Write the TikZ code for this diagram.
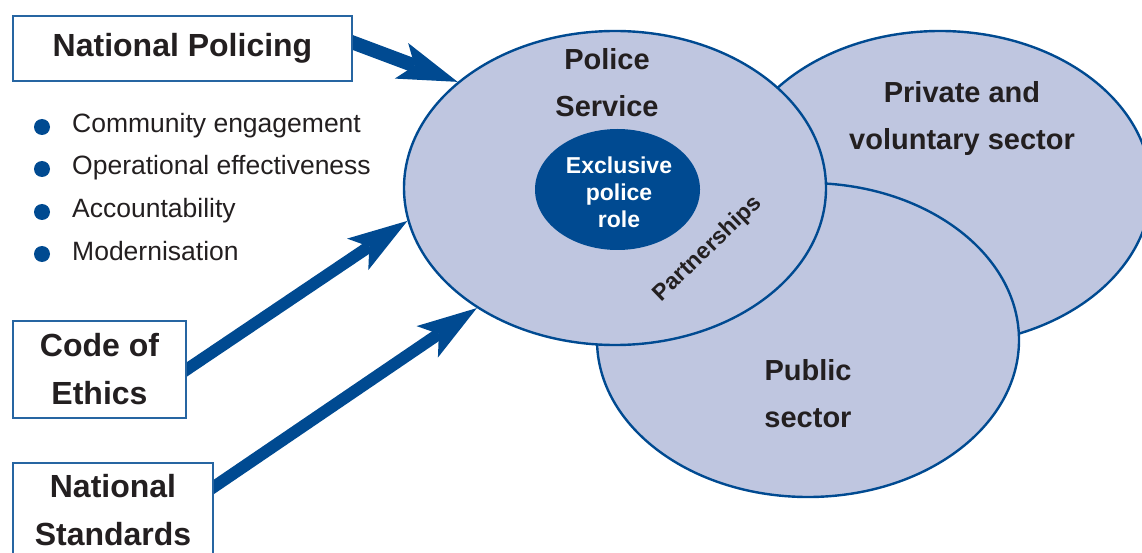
\documentclass[tikz,border=0pt]{standalone}
\usepackage{fontspec}
\setmainfont{Liberation Sans}
\usetikzlibrary{shapes.geometric, arrows.meta, backgrounds}

\definecolor{forceblue}{RGB}{0,74,145}
\definecolor{sectorfill}{RGB}{191,198,224}
\definecolor{ink}{RGB}{35,31,32}

\tikzstyle{sector}=[draw=forceblue, line width=2.4pt, fill=sectorfill, ellipse, minimum width=422pt, minimum height=314pt, inner sep=0pt]
\tikzstyle{panel}=[draw=forceblue!85, line width=1.4pt, fill=white, align=center, text=ink, font=\fontsize{32}{48}\selectfont\bfseries]
\tikzstyle{tag}=[align=center, text=ink, inner sep=0pt, font=\fontsize{29}{47}\selectfont\bfseries]
\tikzstyle{dot}=[circle, fill=forceblue, inner sep=0pt, minimum size=16pt]
\tikzstyle{entry}=[anchor=base west, inner sep=0pt, text=ink, font=\fontsize{26.5}{30}\selectfont]
\tikzstyle{drive}=[-{Stealth[length=60pt, width=38pt, inset=14pt, line width=0pt]}, line width=12pt, forceblue, shorten <=-6pt]

\begin{document}
\begin{tikzpicture}[x=1pt, y=-1pt]
    \useasboundingbox (0,0) rectangle (1142,553);
    \clip (0,0) rectangle (1142,553);

    % sectors, police service on top
    \node[sector] (private) at (940, 188) {};
    \node[sector] (public) at (808, 340) {};
    \node[sector] (police) at (615, 188) {};
    \node[ellipse, fill=forceblue, minimum width=165pt, minimum height=121pt, inner sep=0pt] (core) at (617.5, 189.5) {};

    \node[tag] (policetxt) at (607, 83) {Police\\Service};
    \node[tag] (privatetxt) at (962, 119) {Private and\\voluntary sector};
    \node[tag] (publictxt) at (808, 394) {Public\\sector};
    \node[tag, text=white, font=\fontsize{23}{27}\selectfont\bfseries] (coretxt) at (619, 192) {Exclusive\\police\\role};
    \node[tag, rotate=44, font=\fontsize{23}{26}\selectfont\bfseries] (partners) at (708, 249) {Partnerships};

    % inputs
    \node[panel, minimum width=339pt, minimum height=65pt] (policing) at (182.5, 48.5) {National Policing};
    \node[panel, minimum width=173pt, minimum height=97pt] (ethics) at (99.5, 369.5) {Code of\\Ethics};
    \node[panel, minimum width=200pt, minimum height=94pt] (standards) at (113, 510) {National\\Standards};

    \node[dot] (dot1) at (42, 127) {};
    \node[dot] (dot2) at (42, 169) {};
    \node[dot] (dot3) at (42, 212) {};
    \node[dot] (dot4) at (42, 254) {};
    \node[entry] (entry1) at (72, 133) {Community engagement};
    \node[entry] (entry2) at (72, 175) {Operational effectiveness};
    \node[entry] (entry3) at (72, 218) {Accountability};
    \node[entry] (entry4) at (72, 260) {Modernisation};

    \begin{scope}[on background layer]
        \draw[drive, line width=14pt] ([yshift=6pt]policing.east) -- (police.146);
        \draw[drive] (ethics.east) -- (police.189);
        \draw[drive] ([yshift=23pt]standards.east) -- (police.221);
    \end{scope}
\end{tikzpicture}
\end{document}
